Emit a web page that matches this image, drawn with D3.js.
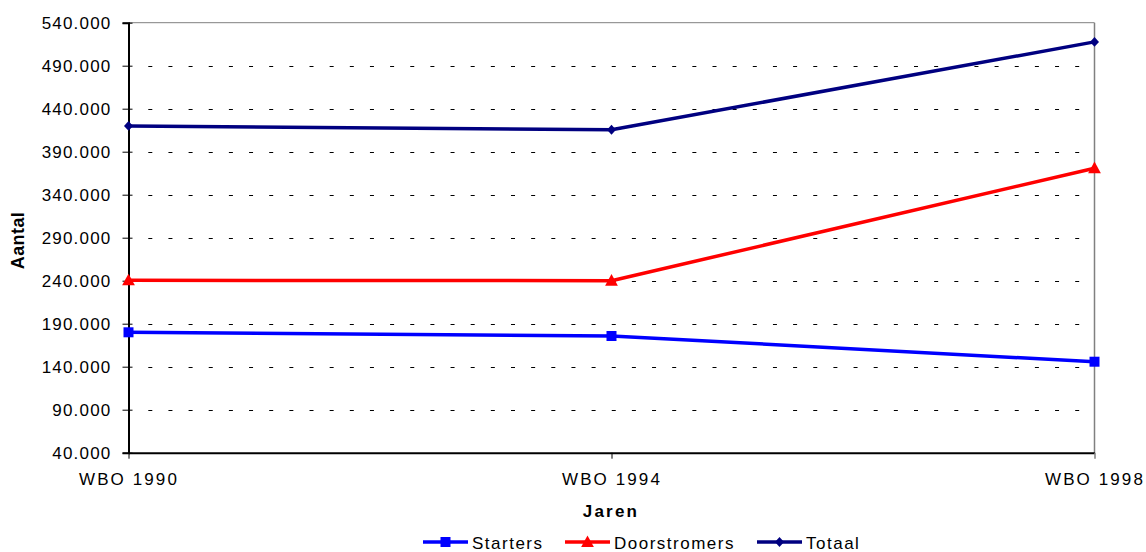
<!DOCTYPE html>
<html>
<head>
<meta charset="utf-8">
<script src="https://cdn.jsdelivr.net/npm/d3@7"></script>
<style>
  html, body { margin: 0; padding: 0; background: #fff; }
  svg { display: block; font-family: Arial, "Liberation Sans", sans-serif; }
</style>
</head>
<body>
<svg id="chart" width="1146" height="552"></svg>
<script>
// Survey years (WBO) and household counts per group
const categories = ["WBO 1990", "WBO 1994", "WBO 1998"];
const starters = [180000, 175700, 145800];
const doorstromers = [240500, 240000, 370800];
const totaal = [420000, 415500, 517700];
const yTicks = [40000, 90000, 140000, 190000, 240000, 290000, 340000, 390000, 440000, 490000, 540000];

const series = [
  { name: "Starters", values: starters, color: "#0000FF", marker: "square" },
  { name: "Doorstromers", values: doorstromers, color: "#FF0000", marker: "triangle" },
  { name: "Totaal", values: totaal, color: "#000080", marker: "diamond" }
];

const svg = d3.select("#chart");
const plotLeft = 128.5, plotRight = 1094.5, plotTop = 22.7, plotBottom = 452.7;

const x = d3.scalePoint().domain(categories).range([plotLeft, plotRight]);
const y = d3.scaleLinear().domain([40000, 540000]).range([plotBottom, plotTop]);

const fmt = v => d3.format(",")(v).replace(/,/g, ".");
const labelStyle = (sel, spacing) => sel.attr("font-size", 17).attr("letter-spacing", spacing + "px").attr("fill", "#000")
  .attr("font-family", "Arial, 'Liberation Sans', sans-serif");

// Dashed horizontal gridlines
svg.append("g").selectAll("line")
  .data(yTicks.filter(t => t > 40000 && t < 540000))
  .join("line")
  .attr("x1", 148.3).attr("x2", plotRight)
  .attr("y1", d => Math.round(y(d)) + 0.5).attr("y2", d => Math.round(y(d)) + 0.5)
  .attr("stroke", "#000").attr("stroke-width", 1)
  .attr("stroke-dasharray", "4,16.15");

// Plot border: grey top and right
svg.append("line").attr("x1", plotLeft).attr("x2", plotRight).attr("y1", plotTop).attr("y2", plotTop)
  .attr("stroke", "#808080").attr("stroke-width", 1);
svg.append("line").attr("x1", plotRight).attr("x2", plotRight).attr("y1", plotTop).attr("y2", plotBottom)
  .attr("stroke", "#808080").attr("stroke-width", 1.5);

// Y axis
const yAxis = d3.axisLeft(y).tickValues(yTicks).tickFormat(fmt).tickSize(6).tickPadding(11);
const gy = svg.append("g").attr("transform", `translate(${plotLeft},0)`).call(yAxis);
gy.select(".domain").attr("stroke", "#000").attr("stroke-width", 2);
gy.selectAll(".tick line").attr("stroke", "#000").attr("x2", -6).attr("x1", 4);
gy.selectAll(".tick text").call(labelStyle, 1.2).attr("dy", "0.36em");

// X axis
const xAxis = d3.axisBottom(x).tickSize(6).tickPadding(14).tickSizeOuter(0);
const gx = svg.append("g").attr("transform", `translate(0,${plotBottom})`).call(xAxis);
gx.select(".domain").attr("stroke", "#000").attr("stroke-width", 2);
gx.selectAll(".tick line").attr("stroke", "#000");
gx.selectAll(".tick text").call(labelStyle, 2.1);
gx.selectAll(".tick").filter(d => d === categories[2]).select("line").attr("stroke", "#808080").attr("stroke-width", 1.5);

// Marker shapes
const markerPath = (type, cx, cy, s) => {
  if (type === "square") return `M${cx - s / 2},${cy - s / 2}h${s}v${s}h${-s}Z`;
  if (type === "triangle") return `M${cx},${cy - s * 0.6}L${cx + s * 0.58},${cy + s * 0.45}L${cx - s * 0.58},${cy + s * 0.45}Z`;
  return `M${cx},${cy - s * 0.55}L${cx + s * 0.5},${cy}L${cx},${cy + s * 0.55}L${cx - s * 0.5},${cy}Z`;
};
const markerSize = { square: 10, triangle: 11, diamond: 9 };

// Series lines and markers
const line = d3.line().x((d, i) => x(categories[i])).y(d => y(d));
series.forEach(s => {
  svg.append("path").datum(s.values)
    .attr("d", line).attr("fill", "none")
    .attr("stroke", s.color).attr("stroke-width", 3.5).attr("stroke-linejoin", "round");
  svg.append("g").selectAll("path").data(s.values).join("path")
    .attr("d", (d, i) => markerPath(s.marker, x(categories[i]), y(d), markerSize[s.marker]))
    .attr("fill", s.color);
});

// Axis titles
svg.append("text").attr("transform", "translate(23.5,240.5) rotate(-90)")
  .attr("text-anchor", "middle").attr("font-size", 18).attr("font-weight", "bold")
  .attr("letter-spacing", "0.4px").text("Aantal");
svg.append("text").attr("x", 611).attr("y", 516.5)
  .attr("text-anchor", "middle").attr("font-size", 17).attr("font-weight", "bold")
  .attr("letter-spacing", "2.2px").text("Jaren");

// Legend
const legendX = [423, 565, 757];
const legendY = 542;
series.forEach((s, i) => {
  const g = svg.append("g");
  g.append("line").attr("x1", legendX[i]).attr("x2", legendX[i] + 45)
    .attr("y1", legendY).attr("y2", legendY)
    .attr("stroke", s.color).attr("stroke-width", 3.5);
  g.append("path").attr("d", markerPath(s.marker, legendX[i] + 22.5, legendY, markerSize[s.marker])).attr("fill", s.color);
  g.append("text").attr("x", legendX[i] + 49).attr("y", 549)
    .call(labelStyle, 1.5).text(s.name);
});
</script>
</body>
</html>
